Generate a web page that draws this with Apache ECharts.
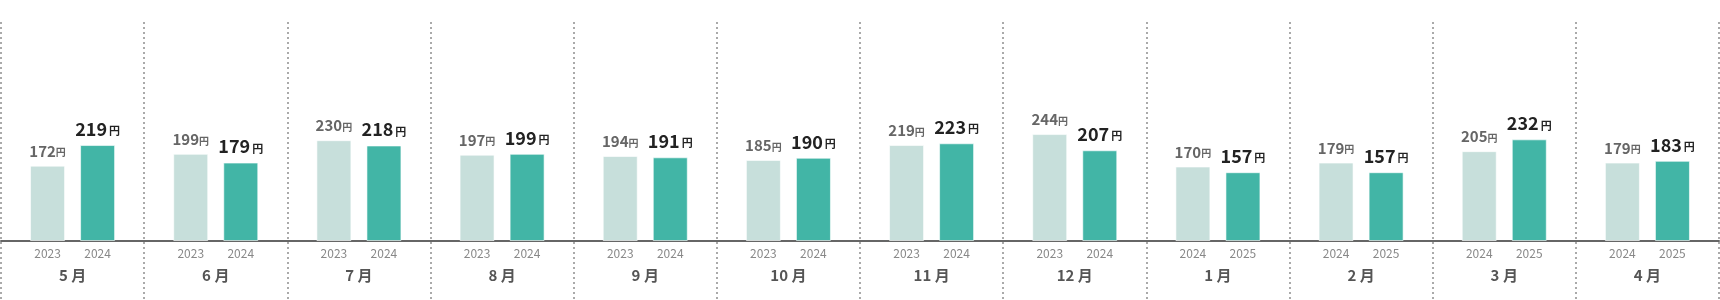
<!DOCTYPE html>
<html>
<head>
<meta charset="utf-8">
<script src="https://cdn.jsdelivr.net/npm/echarts@6/dist/echarts.min.js"></script>
<style>
html,body{margin:0;padding:0;background:#fff;}
#chart{width:1720px;height:300px;}
</style>
</head>
<body>
<div id="chart"></div>
<script>
const months = ['5 月','6 月','7 月','8 月','9 月','10 月','11 月','12 月','1 月','2 月','3 月','4 月'];
const prevYears = ['2023','2023','2023','2023','2023','2023','2023','2023','2024','2024','2024','2024'];
const currYears = ['2024','2024','2024','2024','2024','2024','2024','2024','2025','2025','2025','2025'];
const prevValues = [172,199,230,197,194,185,219,244,170,179,205,179];
const currValues = [219,179,218,199,191,190,223,207,157,157,232,183];
const unit = '円';

const FONT = '"Noto Sans CJK JP", "Noto Sans", sans-serif';
const chart = echarts.init(document.getElementById('chart'));

chart.setOption({
  animation: false,
  textStyle: { fontFamily: FONT },
  grid: [
    { left: 1, right: 1, top: 0, bottom: 59 },
    { left: 1, right: 1, top: 22, bottom: 0 }
  ],
  xAxis: [
    {
      type: 'category', gridIndex: 0, data: months,
      axisLine: { lineStyle: { color: '#666', width: 2 } },
      axisTick: { show: false },
      splitLine: { show: false },
      axisLabel: {
        interval: 0, margin: 4, fontFamily: FONT,
        formatter: function (v, i) {
          return '{y|' + prevYears[i] + '}{y|' + currYears[i] + '}\n{m|' + v + '}';
        },
        rich: {
          y: { fontSize: 12, color: '#888', width: 50, align: 'center', lineHeight: 16, fontFamily: FONT },
          m: { fontSize: 15, fontWeight: 'bold', color: '#555', lineHeight: 28, fontFamily: FONT }
        }
      }
    },
    {
      type: 'category', gridIndex: 1, data: months,
      axisLine: { show: false }, axisTick: { show: false }, axisLabel: { show: false },
      splitLine: { show: true, lineStyle: { color: '#aaa', width: 2, type: [2, 3] } }
    }
  ],
  yAxis: [
    { type: 'value', gridIndex: 0, min: 0, max: 550, show: false },
    { type: 'value', gridIndex: 1, min: 0, max: 1, show: false }
  ],
  series: [
    {
      type: 'bar', xAxisIndex: 0, yAxisIndex: 0, data: prevValues,
      barWidth: 35, barGap: '43%',
      itemStyle: { color: '#c7dfdb', borderColor: 'rgba(255,255,255,0.6)', borderWidth: 1 },
      label: {
        show: true, position: 'top', distance: 7,
        formatter: function (p) { return '{a|' + p.value + '}{b|' + unit + '}'; },
        rich: {
          a: { fontSize: 15, fontWeight: 'bold', color: '#666', fontFamily: FONT },
          b: { fontSize: 10, fontWeight: 'bold', color: '#666', fontFamily: FONT, padding: [3, 0, 0, 0] }
        }
      }
    },
    {
      type: 'bar', xAxisIndex: 0, yAxisIndex: 0, data: currValues,
      barWidth: 35, barGap: '43%',
      itemStyle: { color: '#42b5a6', borderColor: 'rgba(255,255,255,0.6)', borderWidth: 1 },
      label: {
        show: true, position: 'top', distance: 7,
        formatter: function (p) { return '{a|' + p.value + '}{b|' + unit + '}'; },
        rich: {
          a: { fontSize: 18, fontWeight: 'bold', color: '#222', fontFamily: FONT },
          b: { fontSize: 11, fontWeight: 'bold', color: '#222', fontFamily: FONT, padding: [4, 0, 0, 2] }
        }
      }
    }
  ]
});
</script>
</body>
</html>
